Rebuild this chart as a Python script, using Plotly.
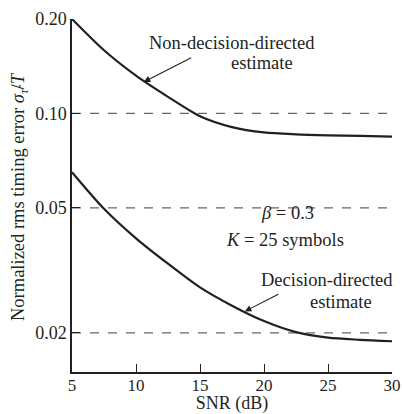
import math
import plotly.graph_objects as go

snr = [5, 7.5, 10, 12.5, 15, 17.5, 20, 22.5, 25, 27.5, 30]
ndd = [0.200, 0.159, 0.132, 0.113, 0.0980, 0.0905, 0.0870, 0.0858, 0.0852, 0.0848, 0.0844]
dd = [0.0650, 0.0497, 0.0400, 0.0332, 0.0279, 0.0244, 0.0218, 0.0201, 0.0193, 0.0190, 0.0188]

grid_vals = [0.02, 0.05, 0.10]
y_ticks = [0.02, 0.05, 0.10, 0.20]
y_labels = ["0.02", "0.05", "0.10", "0.20"]
x_ticks = [5, 10, 15, 20, 25, 30]

ink = "#231f20"
tick_font = dict(family="Liberation Serif", size=17, color=ink)
note_font = dict(family="Liberation Serif", size=18.5, color=ink)
title_font = dict(family="Liberation Serif", size=18, color=ink)

fig = go.Figure()
fig.add_trace(go.Scatter(x=snr, y=ndd, mode="lines", line=dict(color=ink, width=2.2, shape="spline", smoothing=0.8)))
fig.add_trace(go.Scatter(x=snr, y=dd, mode="lines", line=dict(color=ink, width=2.2, shape="spline", smoothing=0.8)))

# dashed reference lines
for g in grid_vals:
    fig.add_shape(type="line", xref="paper", x0=0, x1=1, yref="y", y0=g, y1=g,
                  line=dict(color="#666666", width=1.2, dash="dash"), layer="below")

# arrows pointing at the curves (log axis -> log10 positions)
fig.add_annotation(x=10.6, y=math.log10(0.126), ax=49, ay=-25, text="", showarrow=True,
                   arrowhead=2, arrowsize=1.2, arrowwidth=1.1, arrowcolor=ink)
fig.add_annotation(x=18.5, y=math.log10(0.0234), ax=35, ay=-18, text="", showarrow=True,
                   arrowhead=2, arrowsize=1.2, arrowwidth=1.1, arrowcolor=ink)

texts = [
    ("Non-decision-directed", 232, 43),
    ("estimate", 262, 63),
    ("<i>β</i> = 0.3", 287, 213),
    ("<i>K</i> = 25 symbols", 285, 240),
    ("Decision-directed", 327, 280),
    ("estimate", 341, 302),
]
for t, px_, py_ in texts:
    fig.add_annotation(text=t, xref="paper", yref="paper",
                       x=(px_ - 72) / 320, y=(372 - py_) / 353,
                       showarrow=False, font=note_font, xanchor="center", yanchor="middle")

# y title
fig.add_annotation(text="Normalized rms timing error <i>σ</i><sub><i>τ̂</i></sub>/<i>T</i>",
                   xref="paper", yref="paper", x=(19 - 72) / 320, y=(372 - 197) / 353,
                   textangle=-90, showarrow=False, font=dict(title_font, size=18.5),
                   xanchor="center", yanchor="middle")

fig.update_layout(
    width=402, height=414,
    margin=dict(l=72, r=10, t=19, b=42),
    paper_bgcolor="white", plot_bgcolor="white",
    showlegend=False, font=tick_font,
)

fig.update_xaxes(range=[5, 30], tickvals=x_ticks, ticks="inside", ticklen=8, tickwidth=1.2,
                 tickcolor=ink, showline=True, linecolor=ink, linewidth=1.5,
                 showgrid=False, zeroline=False, automargin=False, ticklabelstandoff=-3,
                 title=dict(text="SNR (dB)", standoff=2, font=title_font), tickfont=tick_font)
fig.update_yaxes(type="log", range=[math.log10(0.015), math.log10(0.2)], tickvals=y_ticks,
                 ticktext=y_labels, ticks="inside", ticklen=8, tickwidth=1.2, tickcolor=ink,
                 showline=True, linecolor=ink, linewidth=1.5, showgrid=False, automargin=False,
                 tickfont=dict(tick_font, size=18))

# drop the browser's default 8px body margin so the figure fills the window
fig.write_html("out.html", config={"displayModeBar": False},
               post_script="document.body.style.margin='0';document.body.style.overflow='hidden';")
